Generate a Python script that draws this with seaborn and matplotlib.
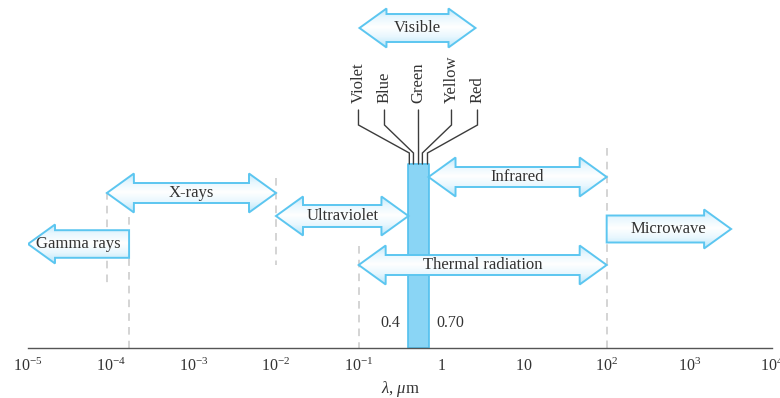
import numpy as np
import matplotlib
matplotlib.use("Agg")
import matplotlib.pyplot as plt
from matplotlib.patches import Polygon
from matplotlib.colors import LinearSegmentedColormap
from matplotlib.ticker import FixedLocator, FixedFormatter, NullLocator
import seaborn as sns

# ---------------------------------------------------------------- data
# wavelength axis, micrometres
decades = [1e-5, 1e-4, 1e-3, 1e-2, 1e-1, 1, 10, 1e2, 1e3, 1e4]
decade_labels = [r"$10^{-5}$", r"$10^{-4}$", r"$10^{-3}$", r"$10^{-2}$",
                 r"$10^{-1}$", r"$1$", r"$10$", r"$10^{2}$", r"$10^{3}$",
                 r"$10^{4}$"]

# spectral bands (µm); open ends point off the range
band_names = ["Gamma rays", "X-rays", "Ultraviolet", "Infrared",
              "Thermal radiation", "Microwave"]
band_lo = [1e-5, 9e-5, 1e-2, 0.70, 0.1, 1e2]
band_hi = [1.67e-4, 1e-2, 0.4, 1e2, 1e2, 3.2e3]
band_heads = ["left", "both", "both", "both", "both", "right"]

# visible band and its colours (µm)
visible_lo, visible_hi = 0.4, 0.70
colour_names = ["Violet", "Blue", "Green", "Yellow", "Red"]
colour_wl = [0.41, 0.46, 0.53, 0.59, 0.68]

# dashed guides at band edges (µm)
guide_wl = [9e-5, 1.67e-4, 1e-2, 1e-1, 1e2]

# ---------------------------------------------------------------- layout
W, H, DPI = 780, 398, 100
AX_L, AX_R, AX_Y = 28, 772, 348          # axis line, in pixel rows/cols
band_row = [244, 193, 216, 177, 265, 229]
band_body = [13.8, 10.0, 11.0, 10.0, 10.0, 13.5]
guide_span = [(192, 288), (217, AX_Y), (178, 265), (246, AX_Y), (148, AX_Y)]
HEAD_HALF, HEAD_LEN = 19.5, 27
BAR_TOP = 164
label_offsets = [-60, -34, 0, 33, 59]   # leader tops relative to the band centre

EDGE = "#5cc6f0"
TEXT = "#333333"
LEAD = "#3c3c3c"
GUIDE = "#c9c9c9"

sns.set_theme(style="white")
plt.rcParams["font.family"] = ["Liberation Serif", "DejaVu Serif"]
plt.rcParams["mathtext.fontset"] = "custom"
plt.rcParams["mathtext.rm"] = "Liberation Serif"
plt.rcParams["mathtext.it"] = "Liberation Serif:italic"

fig = plt.figure(figsize=(W / DPI, H / DPI), dpi=DPI)
ax = fig.add_axes([AX_L / W, (H - AX_Y) / H, (AX_R - AX_L) / W, AX_Y / H])
ax.set_autoscale_on(False)
ax.set_xscale("log")
ax.set_xlim(decades[0], decades[-1])
ax.set_ylim(AX_Y, 0)
ax.patch.set_alpha(0)

ppd = (AX_R - AX_L) / (np.log10(decades[-1]) - np.log10(decades[0]))


def shift(x, px):
    """Move a wavelength by a horizontal distance given in pixels."""
    return x * 10 ** (px / ppd)


grad = LinearSegmentedColormap.from_list(
    "glow", ["#bde7fa", "#e8f7fe", "#ffffff", "#e8f7fe", "#bde7fa"])


def arrow(x0, x1, yc, body, heads, label, fontsize=12):
    hh, hl = HEAD_HALF, HEAD_LEN
    if heads == "both":
        a, b = shift(x0, hl), shift(x1, -hl)
        pts = [(x0, yc), (a, yc - hh), (a, yc - body), (b, yc - body),
               (b, yc - hh), (x1, yc), (b, yc + hh), (b, yc + body),
               (a, yc + body), (a, yc + hh)]
    elif heads == "left":
        a = shift(x0, hl)
        pts = [(x0, yc), (a, yc - hh), (a, yc - body), (x1, yc - body),
               (x1, yc + body), (a, yc + body), (a, yc + hh)]
    else:
        b = shift(x1, -hl)
        pts = [(x0, yc - body), (b, yc - body), (b, yc - hh), (x1, yc),
               (b, yc + hh), (b, yc + body), (x0, yc + body)]
    poly = Polygon(pts, closed=True, facecolor="none", edgecolor=EDGE,
                   lw=1.4, joinstyle="miter", zorder=4)
    ax.add_patch(poly)
    img = ax.imshow(np.linspace(0, 1, 64).reshape(-1, 1), cmap=grad,
                    extent=(x0, x1, yc + hh, yc - hh), aspect="auto",
                    interpolation="bilinear", zorder=3)
    img.set_clip_path(poly)
    ax.text(np.sqrt(x0 * x1), yc, label, ha="center", va="center",
            fontsize=fontsize, color=TEXT, zorder=5)


# dashed guides
for wl, (y0, y1) in zip(guide_wl, guide_span):
    ax.plot([wl, wl], [y0, y1], color=GUIDE, lw=1.1, dashes=(5, 4), zorder=1)

# visible band
ax.fill_betweenx([BAR_TOP, AX_Y], visible_lo, visible_hi, facecolor="#8ad5f5",
                 edgecolor="#52c0ee", lw=1.2, zorder=2)
ax.text(shift(visible_lo, -8), 323, f"{visible_lo:g}", ha="right",
        va="center", fontsize=11.5, color=TEXT)
ax.text(shift(visible_hi, 8), 323, f"{visible_hi:.2f}", ha="left",
        va="center", fontsize=11.5, color=TEXT)

# band arrows
for name, lo, hi, row, body, heads in zip(band_names, band_lo, band_hi,
                                          band_row, band_body, band_heads):
    arrow(lo, hi, row, body, heads, name)

# "Visible" header arrow centred over the band
vc = np.sqrt(visible_lo * visible_hi)
arrow(shift(vc, -59), shift(vc, 57), 28, 14, "both", "Visible")

# colour names with leaders down to the band
for name, wl, off in zip(colour_names, colour_wl, label_offsets):
    xt = shift(vc, off)
    ax.plot([xt, xt, wl, wl], [110, 125, 153, BAR_TOP], color=LEAD, lw=1.0,
            solid_joinstyle="miter", zorder=2)
    ax.text(xt, 103, name, rotation=90, ha="center", va="bottom",
            fontsize=12, color=TEXT)

# axis styling
for side in ("left", "top", "right"):
    ax.spines[side].set_visible(False)
ax.spines["bottom"].set_color("#555555")
ax.spines["bottom"].set_linewidth(1.0)
ax.set_yticks([])
ax.xaxis.set_major_locator(FixedLocator(decades))
ax.xaxis.set_major_formatter(FixedFormatter(decade_labels))
ax.xaxis.set_minor_locator(NullLocator())
ax.tick_params(axis="x", direction="in", length=4.5, width=1.0,
               color="#555555", labelcolor=TEXT, labelsize=11.5, pad=7)
ax.set_xlabel(r"$\lambda$, $\mu$m", fontsize=12, color=TEXT, labelpad=3)

fig.savefig("out.png", dpi=DPI)
